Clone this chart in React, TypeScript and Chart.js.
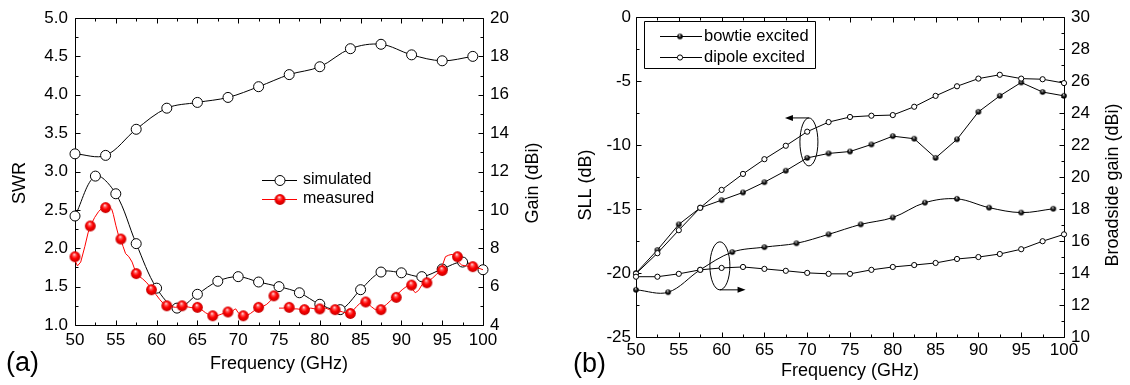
import React, { useEffect, useRef } from "react";
import { Chart, registerables } from "chart.js";

Chart.register(...registerables);

const FONT = "'Liberation Sans', Arial, Helvetica, sans-serif";

// ---------------- Panel (a) data ----------------
const swrFreq = [50, 52.5, 55, 57.5, 60, 62.5, 65, 67.5, 70, 72.5, 75, 77.5, 80, 82.5, 85, 87.5, 90, 92.5, 95, 97.5, 100];
const simulatedSwr = [2.42, 2.94, 2.71, 2.06, 1.48, 1.22, 1.4, 1.57, 1.63, 1.56, 1.5, 1.42, 1.27, 1.2, 1.46, 1.69, 1.68, 1.63, 1.73, 1.82, 1.72];
const gainFreq = [50, 53.75, 57.5, 61.25, 65, 68.75, 72.5, 76.25, 80, 83.75, 87.5, 91.25, 95, 98.75];
const simulatedGain = [12.92, 12.84, 14.2, 15.3, 15.6, 15.86, 16.42, 17.05, 17.46, 18.4, 18.63, 18.08, 17.77, 18.0];
const measuredMarkerFreq = [50, 51.875, 53.75, 55.625, 57.5, 59.375, 61.25, 63.125, 65, 66.875, 68.75, 70.625, 72.5, 74.375, 76.25, 78.125, 80, 81.875, 83.75, 85.625, 87.5, 89.375, 91.25, 93.125, 95, 96.875, 98.75];
const measuredMarkerSwr = [1.89, 2.29, 2.53, 2.12, 1.67, 1.46, 1.25, 1.25, 1.23, 1.12, 1.17, 1.12, 1.23, 1.38, 1.23, 1.2, 1.21, 1.2, 1.15, 1.3, 1.2, 1.36, 1.52, 1.55, 1.71, 1.89, 1.76];
const measuredTraceFreq = [
  50.0, 50.3, 50.7, 51.2, 51.6, 51.9, 52.4, 52.9, 53.4, 53.8, 54.2, 54.5, 54.7, 55.0, 55.3, 55.6, 55.9, 56.2, 56.6, 57.0,
  57.4, 57.8, 58.3, 58.8, 59.4, 59.9, 60.4, 60.9, 61.3, 61.8, 62.3, 62.8, 63.1, 63.6, 64.1, 64.6, 65.0, 65.5, 66.0, 66.5,
  66.9, 67.4, 67.9, 68.4, 68.8, 69.2, 69.5, 69.7, 70.0, 70.3, 70.6, 71.0, 71.5, 72.0, 72.5, 73.0, 73.5, 74.0, 74.4, 74.7,
  74.85,
  75.0, 75.5, 76.1, 76.7, 77.2, 77.9, 78.4, 78.9, 79.4, 79.7, 80.2, 80.7, 81.2, 81.65, 82.2, 82.8, 83.5, 84.0, 84.5, 84.9,
  85.3, 85.8, 86.3, 86.8, 87.2, 87.7, 88.2, 88.7, 89.1, 89.6, 90.1, 90.6, 91.0, 91.4, 91.7, 92.1, 92.5, 92.8, 93.3, 93.8,
  94.3, 94.8, 95.1, 95.4, 95.8, 96.2, 96.65, 97.0, 97.4, 97.9, 98.5, 99.0, 99.5, 100.0,
];
const measuredTraceSwr: (number | null)[] = [
  1.84, 1.77, 1.82, 2.02, 2.2, 2.29, 2.4, 2.48, 2.53, 2.55, 2.54, 2.51, 2.44, 2.3, 2.18, 2.12, 2.02, 1.93, 1.89, 1.82,
  1.7, 1.64, 1.6, 1.55, 1.47, 1.4, 1.33, 1.27, 1.25, 1.24, 1.23, 1.24, 1.25, 1.24, 1.23, 1.22, 1.23, 1.2, 1.16, 1.13,
  1.12, 1.12, 1.14, 1.16, 1.17, 1.17, 1.2, 1.21, 1.16, 1.14, 1.12, 1.12, 1.15, 1.19, 1.23, 1.24, 1.27, 1.32, 1.38, 1.43,
  null,
  1.22, 1.22, 1.23, 1.21, 1.21, 1.2, 1.21, 1.22, 1.21, 1.21, 1.22, 1.22, 1.2, 1.2, 1.19, 1.17, 1.15, 1.18, 1.24, 1.28,
  1.3, 1.29, 1.24, 1.2, 1.2, 1.23, 1.27, 1.32, 1.36, 1.41, 1.46, 1.5, 1.52, 1.46, 1.42, 1.45, 1.52, 1.55, 1.57, 1.61,
  1.66, 1.71, 1.8, 1.89, 1.91, 1.92, 1.89, 1.82, 1.78, 1.77, 1.76, 1.74, 1.74, 1.72,
];
const xTicksA = { min: 50, max: 100, step: 5 };
const swrTicks = { min: 1, max: 5, step: 0.5 };
const gainTicksA = { min: 4, max: 20, step: 2 };

// ---------------- Panel (b) data ----------------
const sllFreq = [50, 52.5, 55, 57.5, 60, 62.5, 65, 67.5, 70, 72.5, 75, 77.5, 80, 82.5, 85, 87.5, 90, 92.5, 95, 97.5, 100];
const bowtieSll = [-20.0, -18.2, -16.2, -14.9, -14.3, -13.7, -12.9, -12.0, -11.0, -10.65, -10.5, -9.95, -9.3, -9.5, -11.0, -9.55, -7.4, -6.15, -5.1, -5.85, -6.15];
const dipoleSll = [-20.05, -18.45, -16.65, -14.9, -13.5, -12.25, -11.1, -10.05, -8.95, -8.2, -7.8, -7.7, -7.65, -7.0, -6.15, -5.4, -4.8, -4.5, -4.8, -4.85, -5.15];
const bowtieGainFreq = [50, 53.75, 57.5, 61.25, 65, 68.75, 72.5, 76.25, 80, 83.75, 87.5, 91.25, 95, 98.75];
const bowtieGain = [12.95, 12.8, 14.2, 15.31, 15.62, 15.86, 16.42, 17.04, 17.47, 18.4, 18.64, 18.09, 17.78, 18.02];
const dipoleGainFreq = [50, 52.5, 55, 57.5, 60, 62.5, 65, 67.5, 70, 72.5, 75, 77.5, 80, 82.5, 85, 87.5, 90, 92.5, 95, 97.5, 100];
const dipoleGain = [13.77, 13.77, 13.95, 14.2, 14.32, 14.38, 14.26, 14.14, 14.01, 13.95, 13.95, 14.2, 14.38, 14.5, 14.63, 14.88, 15.0, 15.19, 15.49, 15.99, 16.42];
const xTicksB = { min: 50, max: 100, step: 5 };
const sllTicks = { min: -25, max: 0, step: 5 };
const gainTicksB = { min: 10, max: 30, step: 2 };

// ---------------- helpers ----------------
const zip = (xs: number[], ys: (number | null)[]) => xs.map((x, i) => ({ x, y: ys[i] }));

function makeSphere(r: number, stops: [number, string][]) {
  const c = document.createElement("canvas");
  const size = Math.ceil(2 * r + 2);
  c.width = size;
  c.height = size;
  const g = c.getContext("2d")!;
  const cx = size / 2;
  const cy = size / 2;
  const grad = g.createRadialGradient(cx - r * 0.15, cy - r * 0.45, r * 0.05, cx, cy, r);
  stops.forEach(([o, col]) => grad.addColorStop(o, col));
  g.fillStyle = grad;
  g.beginPath();
  g.arc(cx, cy, r, 0, Math.PI * 2);
  g.fill();
  return c;
}

function drawFrameAndTicks(chart: any, xId: string, yL: string, yR: string, tick: number[]) {
  const { ctx, chartArea: a, scales } = chart;
  ctx.save();
  ctx.strokeStyle = "#000";
  ctx.lineWidth = 1;
  const L = Math.round(a.left) + 0.5;
  const T = Math.round(a.top) + 0.5;
  const R = Math.round(a.right) + 0.5;
  const B = Math.round(a.bottom) + 0.5;
  ctx.beginPath();
  ctx.rect(L, T, R - L, B - T);
  ctx.stroke();
  const [majorLen, minorLen] = tick;
  const doAxis = (id: string, step: number, sides: string[]) => {
    const s = scales[id];
    const half = step / 2;
    const n = Math.round((s.max - s.min) / half);
    for (let i = 0; i <= n; i++) {
      const v = s.min + i * half;
      const len = i % 2 === 0 ? majorLen : minorLen;
      const p = Math.round(s.getPixelForValue(v)) + 0.5;
      for (const side of sides) {
        ctx.beginPath();
        if (side === "bottom") { ctx.moveTo(p, B); ctx.lineTo(p, B - len); }
        if (side === "top") { ctx.moveTo(p, T); ctx.lineTo(p, T + len); }
        if (side === "left") { ctx.moveTo(L, p); ctx.lineTo(L + len, p); }
        if (side === "right") { ctx.moveTo(R, p); ctx.lineTo(R - len, p); }
        ctx.stroke();
      }
    }
  };
  doAxis(xId, scales[xId].options.ticks.stepSize, ["bottom", "top"]);
  doAxis(yL, scales[yL].options.ticks.stepSize, ["left"]);
  doAxis(yR, scales[yR].options.ticks.stepSize, ["right"]);
  ctx.restore();
}

function vText(ctx: CanvasRenderingContext2D, text: string, x: number, y: number, font: string) {
  ctx.save();
  ctx.translate(x, y);
  ctx.rotate(-Math.PI / 2);
  ctx.font = font;
  ctx.fillStyle = "#000";
  ctx.textAlign = "center";
  ctx.textBaseline = "middle";
  ctx.fillText(text, 0, 0);
  ctx.restore();
}

function hText(ctx: CanvasRenderingContext2D, text: string, x: number, y: number, font: string, align: CanvasTextAlign = "center") {
  ctx.save();
  ctx.font = font;
  ctx.fillStyle = "#000";
  ctx.textAlign = align;
  ctx.textBaseline = "middle";
  ctx.fillText(text, x, y);
  ctx.restore();
}

function arrow(ctx: CanvasRenderingContext2D, x1: number, y1: number, x2: number, y2: number) {
  const ang = Math.atan2(y2 - y1, x2 - x1);
  const hl = 8;
  const hw = 3;
  ctx.beginPath();
  ctx.moveTo(x1, y1);
  ctx.lineTo(x2 - Math.cos(ang) * hl * 0.8, y2 - Math.sin(ang) * hl * 0.8);
  ctx.stroke();
  ctx.beginPath();
  ctx.moveTo(x2, y2);
  ctx.lineTo(x2 - Math.cos(ang) * hl - Math.sin(ang) * hw, y2 - Math.sin(ang) * hl + Math.cos(ang) * hw);
  ctx.lineTo(x2 - Math.cos(ang) * hl + Math.sin(ang) * hw, y2 - Math.sin(ang) * hl - Math.cos(ang) * hw);
  ctx.closePath();
  ctx.fill();
}

function tickFont(size: number) {
  return { family: FONT, size, lineHeight: 1.2 };
}

function baseScale(t: { min: number; max: number; step: number }, position: string, fit: (s: any) => void, padding: number, fmt?: (v: number) => string) {
  return {
    type: "linear",
    position,
    min: t.min,
    max: t.max,
    grid: { display: false, drawTicks: false },
    border: { display: false },
    ticks: {
      stepSize: t.step,
      autoSkip: false,
      maxRotation: 0,
      color: "#000",
      font: tickFont(17),
      padding,
      callback: fmt ? (v: any) => fmt(Number(v)) : (v: any) => String(v),
    },
    afterFit: fit,
  };
}

export default function App() {
  const refA = useRef<HTMLCanvasElement>(null);
  const refB = useRef<HTMLCanvasElement>(null);

  useEffect(() => {
    const redBall = makeSphere(5.4, [[0, "#ffe8e8"], [0.22, "#ff6060"], [0.55, "#ff0000"], [1, "#c40000"]]);
    const blackBall = makeSphere(2.8, [[0, "#e0e0e0"], [0.3, "#505050"], [0.7, "#000000"], [1, "#000000"]]);

    const titleFont = `18px ${FONT}`;

    // ---------- Chart (a) ----------
    const pluginA = {
      id: "decorA",
      beforeDatasetsDraw(chart: any) {
        drawFrameAndTicks(chart, "x", "y", "y2", [5, 3]);
      },
      afterDraw(chart: any) {
        const ctx = chart.ctx as CanvasRenderingContext2D;
        const a = chart.chartArea;
        vText(ctx, "SWR", 20, 183, titleFont);
        vText(ctx, "Gain (dBi)", 533, 183, titleFont);
        hText(ctx, "Frequency (GHz)", (a.left + a.right) / 2, 364, titleFont);
        hText(ctx, "(a)", 6, 364, `27px ${FONT}`, "left");
        // legend
        ctx.save();
        ctx.lineWidth = 1;
        ctx.strokeStyle = "#000";
        ctx.beginPath();
        ctx.moveTo(262, 180.5);
        ctx.lineTo(297, 180.5);
        ctx.stroke();
        ctx.fillStyle = "#fff";
        ctx.beginPath();
        ctx.arc(280, 180.5, 5, 0, Math.PI * 2);
        ctx.fill();
        ctx.stroke();
        ctx.strokeStyle = "#ff0000";
        ctx.beginPath();
        ctx.moveTo(262, 199.5);
        ctx.lineTo(297, 199.5);
        ctx.stroke();
        ctx.drawImage(redBall, 280 - redBall.width / 2, 199.5 - redBall.height / 2);
        ctx.restore();
        hText(ctx, "simulated", 303, 180, `16px ${FONT}`, "left");
        hText(ctx, "measured", 303, 199, `16px ${FONT}`, "left");
      },
    };

    const chartA = new Chart(refA.current!, {
      type: "line",
      data: {
        datasets: [
          {
            label: "measured",
            data: zip(measuredMarkerFreq, measuredMarkerSwr),
            yAxisID: "y",
            showLine: false,
            pointStyle: redBall as any,
            pointRadius: 5.4,
            clip: false,
          },
          {
            label: "measured trace",
            data: zip(measuredTraceFreq, measuredTraceSwr),
            yAxisID: "y",
            borderColor: "#ff0000",
            borderWidth: 1,
            pointRadius: 0,
            tension: 0,
            spanGaps: false,
            clip: false,
          },
          {
            label: "simulated SWR",
            data: zip(swrFreq, simulatedSwr),
            yAxisID: "y",
            borderColor: "#000",
            borderWidth: 1,
            tension: 0.35,
            pointRadius: 5,
            pointBackgroundColor: "#fff",
            pointBorderColor: "#000",
            pointBorderWidth: 1,
            clip: false,
          },
          {
            label: "simulated gain",
            data: zip(gainFreq, simulatedGain),
            yAxisID: "y2",
            borderColor: "#000",
            borderWidth: 1,
            tension: 0.35,
            pointRadius: 5,
            pointBackgroundColor: "#fff",
            pointBorderColor: "#000",
            pointBorderWidth: 1,
            clip: false,
          },
        ] as any,
      },
      options: {
        animation: false,
        responsive: false,
        devicePixelRatio: 1,
        layout: { padding: { top: 18, left: 0, right: 0, bottom: 0 } },
        plugins: { legend: { display: false }, tooltip: { enabled: false } },
        events: [],
        scales: {
          x: baseScale(xTicksA, "bottom", (s) => { s.height = 60; }, 5) as any,
          y: baseScale(swrTicks, "left", (s) => { s.width = 75; }, 7, (v) => v.toFixed(1)) as any,
          y2: baseScale(gainTicksA, "right", (s) => { s.width = 82; }, 7) as any,
        },
      },
      plugins: [pluginA],
    });

    // ---------- Chart (b) ----------
    const pluginB = {
      id: "decorB",
      beforeDatasetsDraw(chart: any) {
        drawFrameAndTicks(chart, "x", "y", "y2", [5, 3]);
      },
      afterDraw(chart: any) {
        const ctx = chart.ctx as CanvasRenderingContext2D;
        const a = chart.chartArea;
        const sx = chart.scales.x;
        const sy = chart.scales.y;
        const sy2 = chart.scales.y2;
        vText(ctx, "SLL (dB)", 21, 185, titleFont);
        vText(ctx, "Broadside gain (dBi)", 548, 185, titleFont);
        hText(ctx, "Frequency (GHz)", (a.left + a.right) / 2, 371, titleFont);
        hText(ctx, "(b)", 8, 365, `27px ${FONT}`, "left");

        // legend box
        ctx.save();
        ctx.strokeStyle = "#000";
        ctx.fillStyle = "#fff";
        ctx.lineWidth = 1;
        ctx.beginPath();
        ctx.rect(79.5, 21.5, 171, 47);
        ctx.fill();
        ctx.stroke();
        ctx.beginPath();
        ctx.moveTo(95, 36.5);
        ctx.lineTo(137, 36.5);
        ctx.moveTo(95, 57.5);
        ctx.lineTo(137, 57.5);
        ctx.stroke();
        ctx.drawImage(blackBall, 115 - blackBall.width / 2, 36.5 - blackBall.height / 2);
        ctx.fillStyle = "#fff";
        ctx.beginPath();
        ctx.arc(115, 57.5, 2.6, 0, Math.PI * 2);
        ctx.fill();
        ctx.stroke();
        ctx.restore();
        hText(ctx, "bowtie excited", 139, 36, `16.5px ${FONT}`, "left");
        hText(ctx, "dipole excited", 139, 57, `16.5px ${FONT}`, "left");

        // annotations: ellipses with arrows
        ctx.save();
        ctx.strokeStyle = "#000";
        ctx.fillStyle = "#000";
        ctx.lineWidth = 1;
        const e1x = sx.getPixelForValue(70.2);
        const e1y = sy.getPixelForValue(-9.75);
        ctx.beginPath();
        ctx.ellipse(e1x, e1y, 9, 24, 0, 0, Math.PI * 2);
        ctx.stroke();
        arrow(ctx, e1x, e1y - 24, sx.getPixelForValue(67.4), e1y - 24);
        const e2x = sx.getPixelForValue(59.8);
        const e2y = sy2.getPixelForValue(14.45);
        ctx.beginPath();
        ctx.ellipse(e2x, e2y, 10, 24, 0, 0, Math.PI * 2);
        ctx.stroke();
        arrow(ctx, e2x, e2y + 24, sx.getPixelForValue(62.8), e2y + 24);
        ctx.restore();
      },
    };

    const openPt = {
      pointRadius: 2.6,
      pointBackgroundColor: "#fff",
      pointBorderColor: "#000",
      pointBorderWidth: 1,
    };

    const chartB = new Chart(refB.current!, {
      type: "line",
      data: {
        datasets: [
          {
            label: "dipole gain",
            data: zip(dipoleGainFreq, dipoleGain),
            yAxisID: "y2",
            borderColor: "#000",
            borderWidth: 1,
            tension: 0,
            ...openPt,
            clip: false,
          },
          {
            label: "dipole SLL",
            data: zip(sllFreq, dipoleSll),
            yAxisID: "y",
            borderColor: "#000",
            borderWidth: 1,
            tension: 0,
            ...openPt,
            clip: false,
          },
          {
            label: "bowtie SLL",
            data: zip(sllFreq, bowtieSll),
            yAxisID: "y",
            borderColor: "#000",
            borderWidth: 1,
            tension: 0,
            pointStyle: blackBall as any,
            pointRadius: 2.8,
            clip: false,
          },
          {
            label: "bowtie gain",
            data: zip(bowtieGainFreq, bowtieGain),
            yAxisID: "y2",
            borderColor: "#000",
            borderWidth: 1,
            tension: 0.35,
            pointStyle: blackBall as any,
            pointRadius: 2.8,
            clip: false,
          },
        ] as any,
      },
      options: {
        animation: false,
        responsive: false,
        devicePixelRatio: 1,
        layout: { padding: { top: 13, left: 0, right: 0, bottom: 0 } },
        plugins: { legend: { display: false }, tooltip: { enabled: false } },
        events: [],
        scales: {
          x: baseScale(xTicksB, "bottom", (s) => { s.height = 48; }, 3) as any,
          y: baseScale(sllTicks, "left", (s) => { s.width = 71; }, 5) as any,
          y2: baseScale(gainTicksB, "right", (s) => { s.width = 66; }, 7) as any,
        },
      },
      plugins: [pluginB],
    });

    return () => {
      chartA.destroy();
      chartB.destroy();
    };
  }, []);

  return (
    <div style={{ position: "absolute", left: 0, top: 0, width: 1130, height: 385, background: "#fff" }}>
      <canvas ref={refA} width={565} height={385} style={{ position: "absolute", left: 0, top: 0, width: 565, height: 385 }} />
      <canvas ref={refB} width={565} height={385} style={{ position: "absolute", left: 565, top: 0, width: 565, height: 385 }} />
    </div>
  );
}
